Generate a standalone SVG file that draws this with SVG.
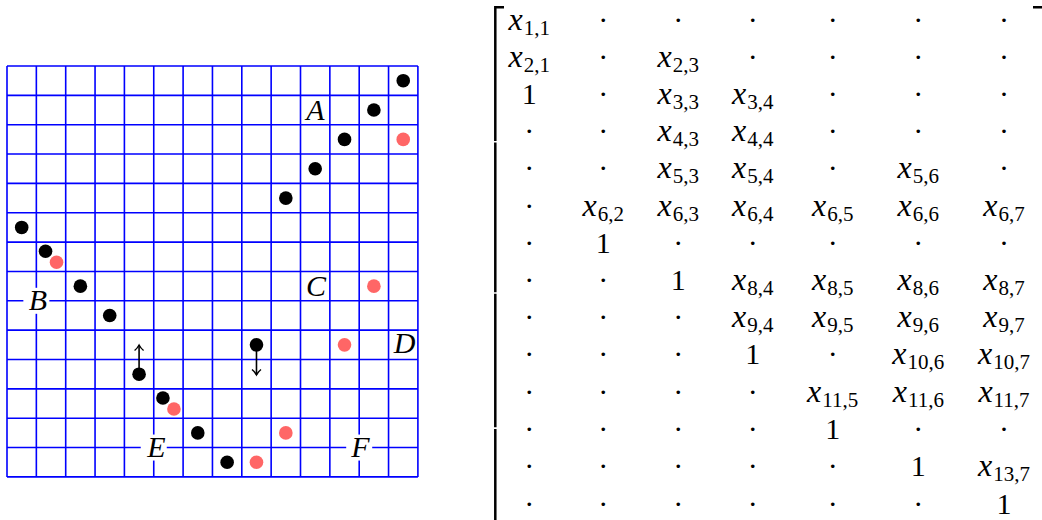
<svg xmlns="http://www.w3.org/2000/svg" width="1042" height="520" viewBox="0 0 1042 520">
<style>
.grid{fill:none;stroke:#0000ff;stroke-width:1.6}
.bk{fill:#000}
.rd{fill:#ff6666}
.lbl{font-family:"Liberation Serif",serif;font-style:italic;font-size:30px;text-anchor:middle;fill:#000}
.bg{fill:#fff}
.arr{fill:none;stroke:#000;stroke-width:1.6}
.m{font-family:"Liberation Serif",serif;font-size:30px;text-anchor:middle;fill:#000}
.i{font-style:italic;font-size:32px}
.s{font-size:21px}
.br{fill:none;stroke:#000;stroke-width:2.5}
</style>
<defs>
<marker id="to" viewBox="-7 -6 8 12" refX="0" refY="0" markerWidth="8" markerHeight="12" markerUnits="userSpaceOnUse" orient="auto" overflow="visible">
<path d="M-5.5,-4.5 C-3.5,-2 -1.2,-0.6 0,0 C-1.2,0.6 -3.5,2 -5.5,4.5" fill="none" stroke="#000" stroke-width="1.4"/>
</marker>
</defs>
<rect width="1042" height="520" fill="#fff"/>
<g id="grid">
<path class="grid" d="M7,66V476.9M36.35,66V476.9M65.7,66V476.9M95.05,66V476.9M124.4,66V476.9M153.75,66V476.9M183.1,66V476.9M212.45,66V476.9M241.8,66V476.9M271.15,66V476.9M300.5,66V476.9M329.85,66V476.9M359.2,66V476.9M388.55,66V476.9M417.9,66V476.9M7,66H417.9M7,95.35H417.9M7,124.7H417.9M7,154.05H417.9M7,183.4H417.9M7,212.75H417.9M7,242.1H417.9M7,271.45H417.9M7,300.8H417.9M7,330.15H417.9M7,359.5H417.9M7,388.85H417.9M7,418.2H417.9M7,447.55H417.9M7,476.9H417.9"/>
</g>
<g id="connectors">
<path class="arr" d="M139.08,374.18V345" marker-end="url(#to)"/>
<path class="arr" d="M256.48,344.83V375" marker-end="url(#to)"/>
</g>
<g id="dots">
<g id="dot-b1"><circle class="bk" cx="403.23" cy="80.68" r="6.8"/></g>
<g id="dot-b2"><circle class="bk" cx="373.88" cy="110.03" r="6.8"/></g>
<g id="dot-b3"><circle class="bk" cx="344.53" cy="139.38" r="6.8"/></g>
<g id="dot-b4"><circle class="bk" cx="315.18" cy="168.73" r="6.8"/></g>
<g id="dot-b5"><circle class="bk" cx="285.83" cy="198.08" r="6.8"/></g>
<g id="dot-b6"><circle class="bk" cx="21.68" cy="227.43" r="6.8"/></g>
<g id="dot-b7"><circle class="bk" cx="45.53" cy="251.28" r="6.8"/></g>
<g id="dot-b8"><circle class="bk" cx="80.38" cy="286.13" r="6.8"/></g>
<g id="dot-b9"><circle class="bk" cx="109.73" cy="315.48" r="6.8"/></g>
<g id="dot-b10"><circle class="bk" cx="139.08" cy="374.18" r="6.8"/></g>
<g id="dot-b11"><circle class="bk" cx="162.93" cy="398.03" r="6.8"/></g>
<g id="dot-b12"><circle class="bk" cx="197.78" cy="432.88" r="6.8"/></g>
<g id="dot-b13"><circle class="bk" cx="227.13" cy="462.23" r="6.8"/></g>
<g id="dot-b14"><circle class="bk" cx="256.48" cy="344.83" r="6.8"/></g>
<g id="dot-r1"><circle class="rd" cx="403.23" cy="139.38" r="6.8"/></g>
<g id="dot-r2"><circle class="rd" cx="56.53" cy="262.28" r="6.8"/></g>
<g id="dot-r3"><circle class="rd" cx="373.88" cy="286.13" r="6.8"/></g>
<g id="dot-r4"><circle class="rd" cx="344.53" cy="344.83" r="6.8"/></g>
<g id="dot-r5"><circle class="rd" cx="173.93" cy="409.03" r="6.8"/></g>
<g id="dot-r6"><circle class="rd" cx="285.83" cy="432.88" r="6.8"/></g>
<g id="dot-r7"><circle class="rd" cx="256.48" cy="462.23" r="6.8"/></g>
</g>
<g id="labels">
<g id="label-A"><text class="lbl" x="315.5" y="119.5">A</text></g>
<g id="label-B"><rect class="bg" x="23.35" y="287.8" width="26" height="26"/><text class="lbl" x="38" y="310">B</text></g>
<g id="label-C"><text class="lbl" x="316" y="295.5">C</text></g>
<g id="label-D"><text class="lbl" x="404.5" y="353">D</text></g>
<g id="label-E"><rect class="bg" x="140.75" y="434.55" width="26" height="26"/><text class="lbl" x="156.5" y="456.5">E</text></g>
<g id="label-F"><rect class="bg" x="346.2" y="434.55" width="26" height="26"/><text class="lbl" x="360.5" y="456.5">F</text></g>
</g>
<g id="matrix">
<path class="br" d="M504,7.2H495.3V141M495.3,142.6V292.2M495.3,293.8V427.3M495.3,428.9V525"/>
<path class="br" d="M1033,7.2H1043.7V525"/>
<g id="row1" transform="translate(0,30.3)">
<text class="m" x="529.3"><tspan class="i">x</tspan><tspan class="s" dx="1" dy="5">1,1</tspan></text>
<text class="m" x="603.3">·</text><text class="m" x="678.3">·</text><text class="m" x="752.7">·</text><text class="m" x="832.7">·</text><text class="m" x="918.3">·</text><text class="m" x="1004">·</text>
</g>
<g id="row2" transform="translate(0,67.3)">
<text class="m" x="529.3"><tspan class="i">x</tspan><tspan class="s" dx="1" dy="5">2,1</tspan></text>
<text class="m" x="603.3">·</text>
<text class="m" x="678.3"><tspan class="i">x</tspan><tspan class="s" dx="1" dy="5">2,3</tspan></text>
<text class="m" x="752.7">·</text><text class="m" x="832.7">·</text><text class="m" x="918.3">·</text><text class="m" x="1004">·</text>
</g>
<g id="row3" transform="translate(0,104.3)">
<text class="m" x="529.3">1</text>
<text class="m" x="603.3">·</text>
<text class="m" x="678.3"><tspan class="i">x</tspan><tspan class="s" dx="1" dy="5">3,3</tspan></text>
<text class="m" x="752.7"><tspan class="i">x</tspan><tspan class="s" dx="1" dy="5">3,4</tspan></text>
<text class="m" x="832.7">·</text><text class="m" x="918.3">·</text><text class="m" x="1004">·</text>
</g>
<g id="row4" transform="translate(0,140.6)">
<text class="m" x="529.3">·</text><text class="m" x="603.3">·</text>
<text class="m" x="678.3"><tspan class="i">x</tspan><tspan class="s" dx="1" dy="5">4,3</tspan></text>
<text class="m" x="752.7"><tspan class="i">x</tspan><tspan class="s" dx="1" dy="5">4,4</tspan></text>
<text class="m" x="832.7">·</text><text class="m" x="918.3">·</text><text class="m" x="1004">·</text>
</g>
<g id="row5" transform="translate(0,177.8)">
<text class="m" x="529.3">·</text><text class="m" x="603.3">·</text>
<text class="m" x="678.3"><tspan class="i">x</tspan><tspan class="s" dx="1" dy="5">5,3</tspan></text>
<text class="m" x="752.7"><tspan class="i">x</tspan><tspan class="s" dx="1" dy="5">5,4</tspan></text>
<text class="m" x="832.7">·</text>
<text class="m" x="918.3"><tspan class="i">x</tspan><tspan class="s" dx="1" dy="5">5,6</tspan></text>
<text class="m" x="1004">·</text>
</g>
<g id="row6" transform="translate(0,215.8)">
<text class="m" x="529.3">·</text>
<text class="m" x="603.3"><tspan class="i">x</tspan><tspan class="s" dx="1" dy="5">6,2</tspan></text>
<text class="m" x="678.3"><tspan class="i">x</tspan><tspan class="s" dx="1" dy="5">6,3</tspan></text>
<text class="m" x="752.7"><tspan class="i">x</tspan><tspan class="s" dx="1" dy="5">6,4</tspan></text>
<text class="m" x="832.7"><tspan class="i">x</tspan><tspan class="s" dx="1" dy="5">6,5</tspan></text>
<text class="m" x="918.3"><tspan class="i">x</tspan><tspan class="s" dx="1" dy="5">6,6</tspan></text>
<text class="m" x="1004"><tspan class="i">x</tspan><tspan class="s" dx="1" dy="5">6,7</tspan></text>
</g>
<g id="row7" transform="translate(0,253.3)">
<text class="m" x="529.3">·</text>
<text class="m" x="603.3">1</text>
<text class="m" x="678.3">·</text><text class="m" x="752.7">·</text><text class="m" x="832.7">·</text><text class="m" x="918.3">·</text><text class="m" x="1004">·</text>
</g>
<g id="row8" transform="translate(0,290.3)">
<text class="m" x="529.3">·</text><text class="m" x="603.3">·</text>
<text class="m" x="678.3">1</text>
<text class="m" x="752.7"><tspan class="i">x</tspan><tspan class="s" dx="1" dy="5">8,4</tspan></text>
<text class="m" x="832.7"><tspan class="i">x</tspan><tspan class="s" dx="1" dy="5">8,5</tspan></text>
<text class="m" x="918.3"><tspan class="i">x</tspan><tspan class="s" dx="1" dy="5">8,6</tspan></text>
<text class="m" x="1004"><tspan class="i">x</tspan><tspan class="s" dx="1" dy="5">8,7</tspan></text>
</g>
<g id="row9" transform="translate(0,327.3)">
<text class="m" x="529.3">·</text><text class="m" x="603.3">·</text><text class="m" x="678.3">·</text>
<text class="m" x="752.7"><tspan class="i">x</tspan><tspan class="s" dx="1" dy="5">9,4</tspan></text>
<text class="m" x="832.7"><tspan class="i">x</tspan><tspan class="s" dx="1" dy="5">9,5</tspan></text>
<text class="m" x="918.3"><tspan class="i">x</tspan><tspan class="s" dx="1" dy="5">9,6</tspan></text>
<text class="m" x="1004"><tspan class="i">x</tspan><tspan class="s" dx="1" dy="5">9,7</tspan></text>
</g>
<g id="row10" transform="translate(0,364.3)">
<text class="m" x="529.3">·</text><text class="m" x="603.3">·</text><text class="m" x="678.3">·</text>
<text class="m" x="752.7">1</text>
<text class="m" x="832.7">·</text>
<text class="m" x="918.3"><tspan class="i">x</tspan><tspan class="s" dx="1" dy="5">10,6</tspan></text>
<text class="m" x="1004"><tspan class="i">x</tspan><tspan class="s" dx="1" dy="5">10,7</tspan></text>
</g>
<g id="row11" transform="translate(0,402.3)">
<text class="m" x="529.3">·</text><text class="m" x="603.3">·</text><text class="m" x="678.3">·</text><text class="m" x="752.7">·</text>
<text class="m" x="832.7"><tspan class="i">x</tspan><tspan class="s" dx="1" dy="5">11,5</tspan></text>
<text class="m" x="918.3"><tspan class="i">x</tspan><tspan class="s" dx="1" dy="5">11,6</tspan></text>
<text class="m" x="1004"><tspan class="i">x</tspan><tspan class="s" dx="1" dy="5">11,7</tspan></text>
</g>
<g id="row12" transform="translate(0,439.3)">
<text class="m" x="529.3">·</text><text class="m" x="603.3">·</text><text class="m" x="678.3">·</text><text class="m" x="752.7">·</text>
<text class="m" x="832.7">1</text>
<text class="m" x="918.3">·</text><text class="m" x="1004">·</text>
</g>
<g id="row13" transform="translate(0,476.3)">
<text class="m" x="529.3">·</text><text class="m" x="603.3">·</text><text class="m" x="678.3">·</text><text class="m" x="752.7">·</text><text class="m" x="832.7">·</text>
<text class="m" x="918.3">1</text>
<text class="m" x="1004"><tspan class="i">x</tspan><tspan class="s" dx="1" dy="5">13,7</tspan></text>
</g>
<g id="row14" transform="translate(0,514.3)">
<text class="m" x="529.3">·</text><text class="m" x="603.3">·</text><text class="m" x="678.3">·</text><text class="m" x="752.7">·</text><text class="m" x="832.7">·</text><text class="m" x="918.3">·</text>
<text class="m" x="1004">1</text>
</g>
</g>
</svg>
